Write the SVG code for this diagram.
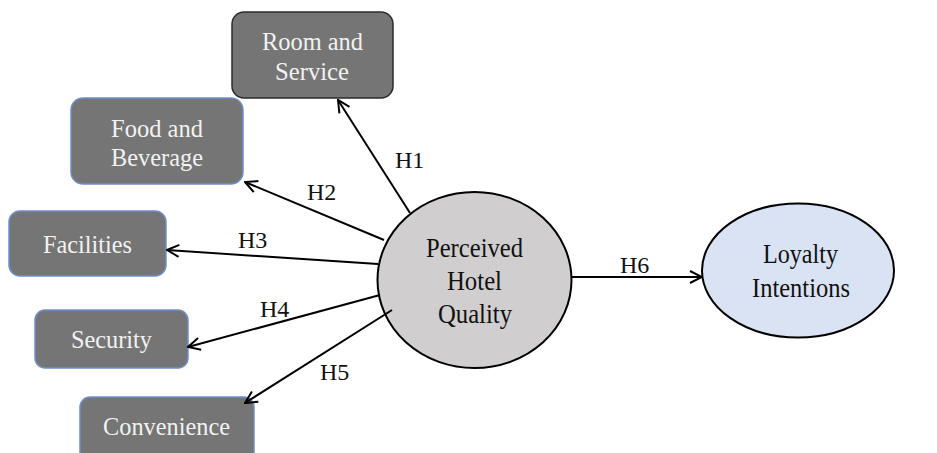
<svg xmlns="http://www.w3.org/2000/svg" width="937" height="453" viewBox="0 0 937 453">
<style>
.box{fill:#757575;stroke:#6f8fca;stroke-width:1.5}
.dark{stroke:#2b2b2b}
.bt{font-family:"Liberation Serif","Times New Roman",serif;font-size:26px;fill:#f2f2f2;text-anchor:middle}
.et{font-family:"Liberation Serif","Times New Roman",serif;font-size:28px;fill:#111;text-anchor:middle}
.lab{font-family:"Liberation Serif","Times New Roman",serif;font-size:24px;fill:#111}
.con{stroke:#000;stroke-width:2;fill:none;marker-end:url(#arr)}
</style>
<defs>
<marker id="arr" viewBox="0 0 14 14" refX="13" refY="7" markerWidth="14" markerHeight="14" markerUnits="userSpaceOnUse" orient="auto">
<path d="M1,1 L13,7 L1,13" fill="none" stroke="#000" stroke-width="2"/>
</marker>
</defs>
<g id="room">
<rect class="box dark" x="232" y="12" width="161" height="86" rx="12"/>
<text class="bt" x="312.5" y="50" textLength="101" lengthAdjust="spacingAndGlyphs">Room and</text>
<text class="bt" x="312" y="80" textLength="74" lengthAdjust="spacingAndGlyphs">Service</text>
</g>
<g id="food">
<rect class="box" x="71" y="98" width="172" height="86" rx="12"/>
<text class="bt" x="157" y="137" textLength="92" lengthAdjust="spacingAndGlyphs">Food and</text>
<text class="bt" x="157" y="166" textLength="92" lengthAdjust="spacingAndGlyphs">Beverage</text>
</g>
<g id="facilities">
<rect class="box" x="9" y="211" width="157" height="65" rx="11"/>
<text class="bt" x="87.5" y="253" textLength="89" lengthAdjust="spacingAndGlyphs">Facilities</text>
</g>
<g id="security">
<rect class="box" x="35" y="310" width="153" height="58" rx="10"/>
<text class="bt" x="111.5" y="348" textLength="81" lengthAdjust="spacingAndGlyphs">Security</text>
</g>
<g id="convenience">
<rect class="box" x="80" y="397" width="174" height="70" rx="10"/>
<text class="bt" x="166.5" y="435" textLength="127" lengthAdjust="spacingAndGlyphs">Convenience</text>
</g>
<g id="phq">
<ellipse cx="474.5" cy="280" rx="97" ry="88" fill="#d0cece" stroke="#000" stroke-width="2"/>
<text class="et" x="474.5" y="257" textLength="97" lengthAdjust="spacingAndGlyphs">Perceived</text>
<text class="et" x="474.5" y="290" textLength="55" lengthAdjust="spacingAndGlyphs">Hotel</text>
<text class="et" x="475" y="323" textLength="74" lengthAdjust="spacingAndGlyphs">Quality</text>
</g>
<g id="loyalty">
<ellipse cx="798" cy="270.5" rx="96" ry="67" fill="#dae3f3" stroke="#000" stroke-width="2"/>
<text class="et" x="800.5" y="263" textLength="75" lengthAdjust="spacingAndGlyphs">Loyalty</text>
<text class="et" x="801" y="297" textLength="98" lengthAdjust="spacingAndGlyphs">Intentions</text>
</g>
<g id="connectors">
<line class="con" x1="410" y1="213" x2="338" y2="100"/>
<line class="con" x1="384" y1="240" x2="245" y2="182"/>
<line class="con" x1="378" y1="264" x2="167" y2="250"/>
<line class="con" x1="380" y1="295" x2="188" y2="347"/>
<line class="con" x1="392" y1="310" x2="245" y2="403"/>
<line class="con" x1="572" y1="277" x2="702" y2="277"/>
<text class="lab" x="395" y="168">H1</text>
<text class="lab" x="307" y="200">H2</text>
<text class="lab" x="238" y="248">H3</text>
<text class="lab" x="260" y="317">H4</text>
<text class="lab" x="320" y="380">H5</text>
<text class="lab" x="620" y="273">H6</text>
</g>
</svg>
